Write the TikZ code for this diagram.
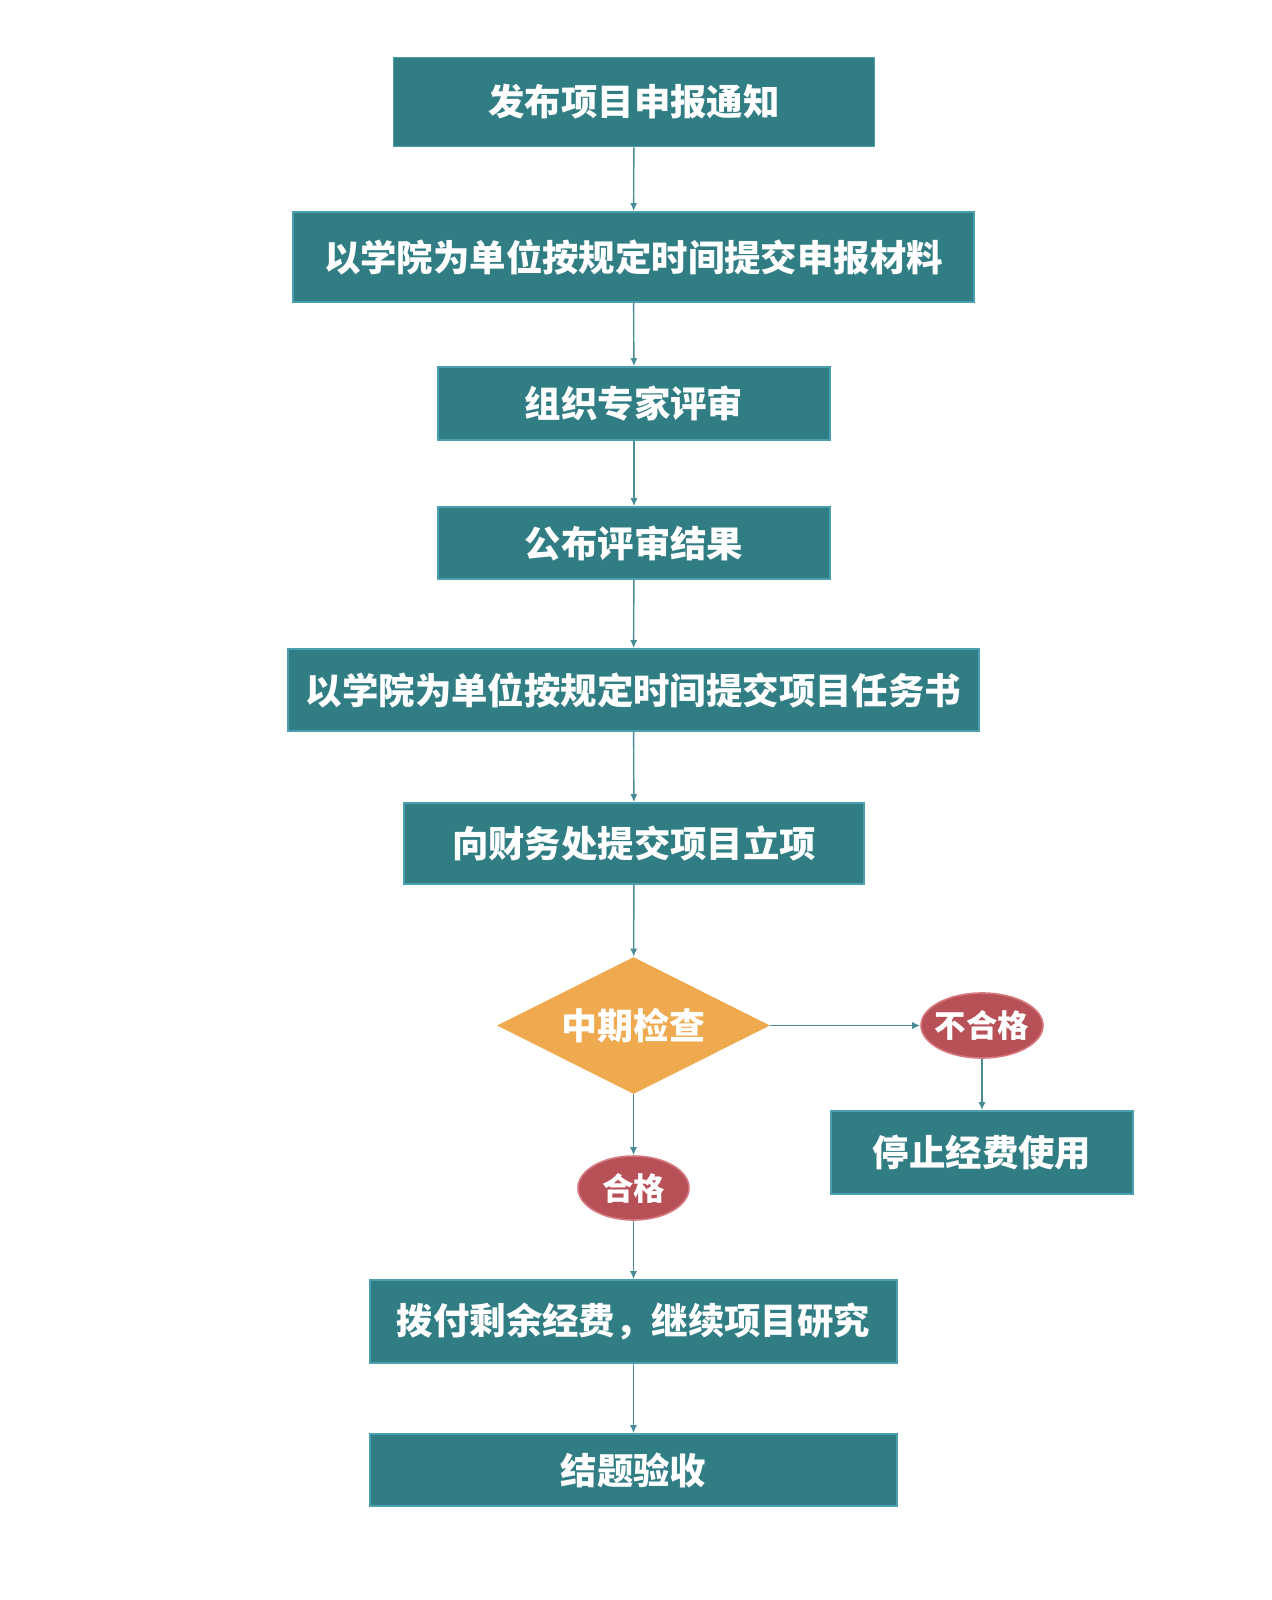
\documentclass[tikz,border=0pt]{standalone}
\usepackage{fontspec}
\newfontfamily\cjk{Noto Sans CJK SC}
\usepackage{tikz}
\usetikzlibrary{arrows.meta,shapes.geometric}

\definecolor{boxteal}{RGB}{49,125,132}
\definecolor{edgeteal}{RGB}{75,160,175}
\definecolor{lineteal}{RGB}{72,140,152}
\definecolor{chkorange}{RGB}{239,169,78}
\definecolor{resred}{RGB}{184,80,88}
\definecolor{resedge}{RGB}{214,120,126}

\begin{document}
\begin{tikzpicture}[
  x=0.5pt, y=-0.5pt,
  font=\cjk\bfseries,
  stepbox/.style={draw=edgeteal, line width=0.8pt, fill=boxteal, text=white,
    font=\cjk\bfseries\fontsize{18.2pt}{20pt}\selectfont, inner sep=0pt},
  check/.style={diamond, fill=chkorange, text=white, aspect=2, inner sep=0pt,
    font=\cjk\bfseries\fontsize{18pt}{20pt}\selectfont},
  result/.style={ellipse, draw=resedge, line width=0.8pt, fill=resred, text=white,
    inner xsep=-4pt, inner ysep=0pt, font=\cjk\bfseries\fontsize{15.7pt}{18pt}\selectfont},
  flow/.style={draw=lineteal, line width=0.7pt, -{Latex[length=4pt,width=3.5pt]}},
]
\useasboundingbox (0,0) rectangle (1271,1600);
% main steps
\node[stepbox, minimum width=240.5pt, minimum height=44.5pt] (notice) at (634,102) {发布项目申报通知};
\node[stepbox, minimum width=340.5pt, minimum height=45pt] (apply) at (633.5,257) {以学院为单位按规定时间提交申报材料};
\node[stepbox, minimum width=196pt, minimum height=36.5pt] (review) at (634,403.5) {组织专家评审};
\node[stepbox, minimum width=196pt, minimum height=36pt] (publish) at (634,543) {公布评审结果};
\node[stepbox, minimum width=345.5pt, minimum height=41pt] (task) at (633.5,690) {以学院为单位按规定时间提交项目任务书};
\node[stepbox, minimum width=230pt, minimum height=40.5pt] (finance) at (634,843.5) {向财务处提交项目立项};
% mid-term check and its two outcomes
\node[check, minimum width=136.5pt, minimum height=68.5pt] (midterm) at (633.5,1025.5) {中期检查};
\node[result, minimum width=61pt, minimum height=32.5pt] (fail) at (982,1025.5) {不合格};
\node[stepbox, minimum width=151pt, minimum height=41.5pt] (stop) at (982,1152.5) {停止经费使用};
\node[result, minimum width=55.5pt, minimum height=32pt] (pass) at (633.5,1188) {合格};
\node[stepbox, minimum width=263.5pt, minimum height=41.5pt] (fund) at (633.5,1321.5) {拨付剩余经费，继续项目研究};
\node[stepbox, minimum width=263.5pt, minimum height=36pt] (close) at (633.5,1470) {结题验收};
% connectors
\draw[flow] (notice) -- (apply);
\draw[flow] (apply) -- (review);
\draw[flow] (review) -- (publish);
\draw[flow] (publish) -- (task);
\draw[flow] (task) -- (finance);
\draw[flow] (finance) -- (midterm);
\draw[flow] (midterm) -- (fail);
\draw[flow] (fail) -- (stop);
\draw[flow] (midterm) -- (pass);
\draw[flow] (pass) -- (fund);
\draw[flow] (fund) -- (close);
\end{tikzpicture}
\end{document}
